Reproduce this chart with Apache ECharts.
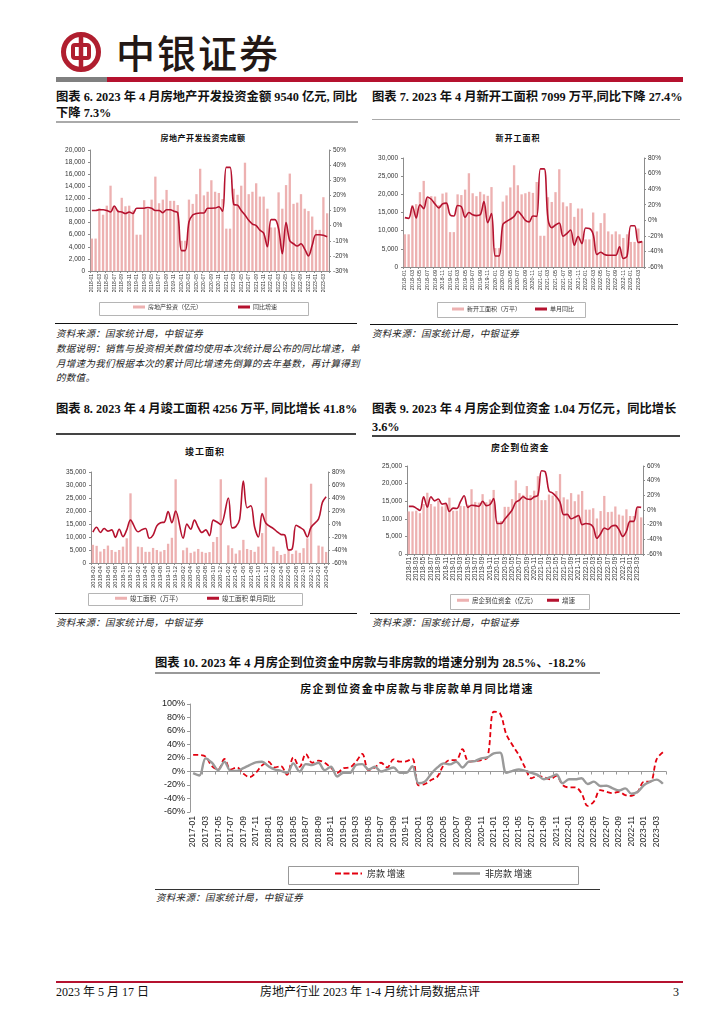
<!DOCTYPE html>
<html><head><meta charset="utf-8">
<script src="https://cdn.jsdelivr.net/npm/echarts@6/dist/echarts.min.js"></script>
<style>
html,body{margin:0;padding:0;background:#fff;}
#page{position:relative;width:724px;height:1024px;overflow:hidden;background:#fff;}
.t{position:absolute;white-space:nowrap;color:#111;}
.ttl{font-family:"Liberation Serif","Noto Sans CJK SC",serif;font-weight:bold;font-size:12.3px;line-height:16px;}
.src{font-family:"Noto Sans CJK SC",sans-serif;font-style:italic;font-size:9.5px;letter-spacing:0.3px;line-height:12px;color:#222;}
.ct{font-family:"Noto Sans CJK SC",sans-serif;font-weight:700;transform:translateX(-50%);color:#111;}
.ln{position:absolute;}
.ch{position:absolute;}
.foot{font-family:"Liberation Serif","Noto Sans CJK SC",serif;font-size:12px;line-height:14px;color:#111;}
</style></head>
<body><div id="page">
<svg style="position:absolute;left:0;top:0" width="724" height="100">
  <circle cx="81" cy="52" r="17.5" fill="none" stroke="#B01E2F" stroke-width="5"/>
  <rect x="73" y="45" width="16" height="13" rx="2" fill="none" stroke="#B01E2F" stroke-width="4"/>
  <line x1="81" y1="34" x2="81" y2="70" stroke="#B01E2F" stroke-width="4.5"/>
</svg>
<div class="t" style="left:116px;top:27px;font-family:'Noto Sans CJK SC';font-size:39px;line-height:48px;font-weight:500;color:#231815;letter-spacing:2px;">中银证券</div>
<div class="ln" style="left:56px;top:77px;width:51px;height:5px;background:#808080"></div>
<div class="ln" style="left:107px;top:77px;width:576px;height:5px;background:#B5122F"></div>

<div class="t ttl" style="left:56px;top:89px;">图表 6. 2023 年 4 月房地产开发投资金额 9540 亿元, 同比<br>下降 7.3%</div>
<div class="ln" style="left:56px;top:121px;width:302px;height:2px;background:#aaa"></div>
<div class="t ttl" style="left:372px;top:89px;">图表 7. 2023 年 4 月新开工面积 7099 万平,同比下降 27.4%</div>
<div class="ln" style="left:372px;top:119px;width:308px;height:1px;background:#aaa"></div>

<div class="t ct" style="left:203px;top:132px;font-size:8px;letter-spacing:0.5px;line-height:12px;">房地产开发投资完成额</div>
<div class="t ct" style="left:518px;top:132px;font-size:8px;letter-spacing:1px;line-height:12px;">新开工面积</div>

<div id="c6" class="ch" style="left:50px;top:128px;width:310px;height:195px;"></div>
<div id="c7" class="ch" style="left:365px;top:128px;width:320px;height:195px;"></div>

<div class="ln" style="left:55px;top:323px;width:302px;height:1px;background:#111"></div>
<div class="ln" style="left:370px;top:324px;width:308px;height:1px;background:#111"></div>
<div class="t src" style="left:56px;top:327px;">资料来源：国家统计局，中银证券</div>
<div class="t src" style="left:372px;top:327px;">资料来源：国家统计局，中银证券</div>
<div class="t src" style="left:56px;top:341px;line-height:14.5px;">数据说明：销售与投资相关数值均使用本次统计局公布的同比增速，单<br>月增速为我们根据本次的累计同比增速先倒算的去年基数，再计算得到<br>的数值。</div>

<div class="t ttl" style="left:56px;top:400px;line-height:18px;">图表 8. 2023 年 4 月竣工面积 4256 万平, 同比增长 41.8%</div>
<div class="t ttl" style="left:372px;top:400px;line-height:18px;">图表 9. 2023 年 4 月房企到位资金 1.04 万亿元，同比增长<br>3.6%</div>
<div class="ln" style="left:56px;top:433px;width:300px;height:1.5px;background:#444"></div>
<div class="ln" style="left:372px;top:435px;width:308px;height:1.5px;background:#444"></div>

<div class="t ct" style="left:205px;top:446px;font-size:9px;letter-spacing:1px;line-height:12px;">竣工面积</div>
<div class="t ct" style="left:520px;top:442px;font-size:9px;letter-spacing:0.7px;line-height:12px;">房企到位资金</div>

<div id="c8" class="ch" style="left:50px;top:438px;width:310px;height:172px;"></div>
<div id="c9" class="ch" style="left:365px;top:438px;width:320px;height:172px;"></div>

<div class="ln" style="left:55px;top:613px;width:302px;height:1px;background:#111"></div>
<div class="ln" style="left:370px;top:613px;width:310px;height:1px;background:#111"></div>
<div class="t src" style="left:56px;top:616px;">资料来源：国家统计局，中银证券</div>
<div class="t src" style="left:372px;top:616px;">资料来源：国家统计局，中银证券</div>

<div class="t ttl" style="left:155px;top:655px;">图表 10. 2023 年 4 月房企到位资金中房款与非房款的增速分别为 28.5%、-18.2%</div>
<div class="ln" style="left:155px;top:672px;width:445px;height:1.5px;background:#999"></div>
<div class="t ct" style="left:417px;top:681px;font-size:11px;letter-spacing:1.3px;line-height:14px;">房企到位资金中房款与非房款单月同比增速</div>
<div id="c10" class="ch" style="left:150px;top:678px;width:530px;height:210px;"></div>
<div class="ln" style="left:155px;top:889px;width:445px;height:1px;background:#333"></div>
<div class="t src" style="left:156px;top:891px;">资料来源：国家统计局，中银证券</div>

<div class="ln" style="left:56px;top:981px;width:627px;height:2px;background:#B5122F"></div>
<div class="t foot" style="left:56px;top:985px;">2023 年 5 月 17 日</div>
<div class="t foot" style="left:260px;top:985px;">房地产行业 2023 年 1-4 月统计局数据点评</div>
<div class="t foot" style="left:673px;top:985px;">3</div>
</div>
<script>
function monthLabels(y0, m0, y1, m1) {
  const out = []; let y = y0, m = m0;
  while (y < y1 || (y === y1 && m <= m1)) { out.push(y + '-' + String(m).padStart(2, '0')); m++; if (m > 12) { m = 1; y++; } }
  return out;
}
// ---- Chart 6: 房地产开发投资完成额 (2018-01 .. 2023-04)
const cats6 = monthLabels(2018, 1, 2023, 4);
const invest6 = [5360,5360,10400,9300,10800,14100,10700,10100,12100,10700,10800,10000,
  6000,6000,11700,10300,11800,15600,11200,11800,13400,11600,11600,10900,
  5000,5000,11800,11100,12700,16900,12500,13100,15000,13100,12900,11900,
  7000,7000,13600,12600,14100,17900,12700,13100,14500,12300,12300,10300,
  7200,7200,13000,10300,14200,16100,11100,11300,12700,10300,9900,9000,
  6800,6800,12200,9540];
const yoy6 = [10,10,10.5,10.5,10,9,13,9.5,9,8,9,8,
  11.5,11.5,11.5,12,11.5,10,10,8.5,10.5,10.5,9.5,8.5,
  -16.5,-16.5,2.4,7,8,8.3,8.3,11.5,11.5,11.6,12.5,9.5,
  38.5,38.5,14,13.5,10,7,3.5,1,0,-3,-5,-14,
  4,4,-2,-18.5,2,-10,-12,-13.5,-12,-15.5,-20,-13,
  -6,-6,-6.3,-7.3];
// ---- Chart 7: 新开工面积 (2018-01 .. 2023-04)
const cats7 = monthLabels(2018, 1, 2023, 4);
const start7 = [9000,9000,17000,17300,20600,23700,19000,19500,19400,17000,20200,20500,
  9600,9600,20000,19800,21300,25800,20300,19500,20700,20000,19600,22000,
  5200,5200,18000,19700,21900,28000,22500,20000,20300,20700,20400,23400,
  8600,8600,19200,17900,20600,26900,17800,16700,17600,13800,16100,16100,
  7600,7600,15000,9800,12100,14800,9800,9000,9800,9000,8000,9000,
  6900,6900,10600,7099];
const yoy7 = [3.4,2.5,18,3,20,15,30,27,21,16,21,22,
  7,5.5,19,17.5,4,10,7,6,7,24,-3,8.5,
  -45.9,-45.9,-5.5,-1.5,1.5,5,11.5,6.5,0,-2,5.5,5,
  66,66,2,-9.5,-6,-3.5,-20.5,-17,-12.5,-32,-21,-30,
  -10,-10.5,-18,-44,-41,-44,-45,-45,-45,-34,-49,-46,
  -7,-7,-28.5,-27.4];
// ---- Chart 8: 竣工面积 (2018-02 .. 2023-04)
const cats8 = monthLabels(2018, 2, 2023, 4);
const done8 = [7000,6600,4400,5400,6700,5000,4300,5000,6300,9500,26800,
  null,6300,6100,4300,4300,5800,5000,4400,5000,7400,9700,32200,
  null,4900,5900,3900,4400,5400,4300,3900,4200,8100,10000,32200,
  null,6800,5700,3600,4900,8900,5400,5000,4300,6300,11500,32900,
  null,6300,4600,3100,3500,5000,3500,4800,3900,5700,9500,30500,
  null,6700,6300,4256];
const yoy8 = [-12.5,-5,-13,-7,-11,-9,-20.5,-8,-19.5,-9,6,
  null,-12,-9,-7,-22,-17,-3,2,3,19,2,20,
  null,-22,0,-8,6,-5,-13,-9,-18,6,3,-1,
  null,40,-6,-4,7,66,25,28,-5,-20,16,1,
  null,-7,-12,-16,-17,-40,-38,-2,-5,-9,-20,-5,
  null,8,33,41.8];
// ---- Chart 9: 房企到位资金 (2018-01 .. 2023-04)
const cats9 = monthLabels(2018, 1, 2023, 4);
const funds9 = [12100,12100,12300,11600,14200,17400,14200,13500,15100,13500,14200,16000,
  12300,12300,13700,13600,14000,18400,14800,14600,17000,14700,15500,18200,
  9400,9400,13400,13400,15600,20900,17300,16800,19300,16700,18000,22100,
  15300,15300,16900,16600,17900,22700,16100,15500,17300,15000,16900,17900,
  12600,12600,13000,10100,12200,16500,11900,12000,13500,11200,10900,12700,
  10800,10800,13300,10400];
const yoy9 = [5,5,2.5,-0.5,18,4,18,12.5,15,8,9,-2,
  2.5,2,11.5,19.5,3.5,6.5,6,5,12,6,7.5,15.5,
  -18.5,-18.5,-12.5,-6.5,0,10.5,13.5,18,15,14.5,18,20,
  53.5,52,26,23,18,10.5,-6.5,-6,-12,-10,-7.5,-20,
  -18.5,-19,-23.5,-38.5,-32.5,-24.5,-26.5,-22,-21,-27,-36,-29,
  -15.5,-15.5,4,3.6];
// ---- Chart 10: 房款 / 非房款 单月同比 (2017-01 .. 2023-04)
const cats10 = monthLabels(2017, 1, 2023, 4);
const house10 = [24.5,24.5,22,8,3,18.5,3,6,-3,-8.5,-2,9,
  14.5,6,8,-5,21,7,26,13,16,13,5.5,-2,
  5,6,14.5,26,2,6,13,6,18,14.5,15,19,
  -20.5,-18.5,-12.5,-7.5,9.5,17,17,33,14.5,15.5,17,21,
  88.5,86,55,39,24.5,6,-10,-6.5,-8.5,-11.5,-6.5,-20,
  -23.5,-23.5,-32,-51,-44.5,-27.5,-30,-32,-30,-35,-36,-30,
  -15,-15,18,28.5];
const nonHouse10 = [-2.5,-6,19.5,13,2,14.5,1,1,5,9.5,13.5,14.5,
  8,3,1,-2,12,0,11,9.5,13,2,7,-7.5,
  -2,-2,9.5,11,3,7,0,3,6,-2,-2,8,
  -17.5,-15,-3.5,6,12,10.5,14.5,6,14.5,15.5,19.5,21,
  27,28,-2,1,3,1,-2,-5,-11.5,-8.5,-4.5,-17.5,
  -11.5,-11.5,-10,-18.5,-15,-21.5,-21,-25,-28,-25,-33,-30,
  -20,-15,-12,-18.2];

const BAR = '#EDB1B1', RED = '#B5122F', AX = '#8c8c8c';
const fmtThousands = v => v.toLocaleString('en-US');

function makeBarLine(id, cats, bars, line, o) {
  const chart = echarts.init(document.getElementById(id));
  chart.setOption({
    animation: false,
    textStyle: { fontFamily: 'Liberation Sans, Noto Sans CJK SC' },
    grid: o.grid,
    legend: [
      { left: o.leg[0], top: o.legTop, padding: 0, itemWidth: 12, itemHeight: 3, itemGap: 3,
        textStyle: { fontSize: o.legFont, color: '#333', fontFamily: 'Noto Sans CJK SC', padding: [0,0,0,-2] },
        data: [{ name: o.barName, icon: 'rect' }] },
      { left: o.leg[1], top: o.legTop, padding: 0, itemWidth: 12, itemHeight: 3, itemGap: 3,
        textStyle: { fontSize: o.legFont, color: '#333', fontFamily: 'Noto Sans CJK SC', padding: [0,0,0,-2] },
        data: [{ name: o.lineName, icon: 'rect' }] }
    ],
    graphic: [{ type: 'rect', silent: true, shape: { x: o.box[0], y: o.box[1], width: o.box[2], height: o.box[3] },
      style: { fill: 'none', stroke: '#b5b5b5', lineWidth: 1 } }],
    xAxis: { type: 'category', data: cats,
      axisLine: { lineStyle: { color: AX } },
      axisTick: { show: true, interval: 1, length: 2, lineStyle: { color: AX } },
      axisLabel: { interval: 1, rotate: 90, fontSize: o.xFont, color: '#333', margin: 3 } },
    yAxis: [
      { type: 'value', min: 0, max: o.lMax, interval: o.lInt, splitLine: { show: false },
        axisLine: { show: true, lineStyle: { color: AX } }, axisTick: { show: true, length: 2, lineStyle: { color: AX } },
        axisLabel: { fontSize: o.yFont, color: '#333', margin: 5, formatter: fmtThousands } },
      { type: 'value', min: o.rMin, max: o.rMax, interval: o.rInt, splitLine: { show: false },
        axisLine: { show: true, lineStyle: { color: AX } }, axisTick: { show: true, length: 2, lineStyle: { color: AX } },
        axisLabel: { fontSize: o.yFont, color: '#333', margin: 4, formatter: '{value}%' } }
    ],
    series: [
      { type: 'bar', name: o.barName, data: bars, barWidth: '62%', itemStyle: { color: BAR } },
      { type: 'line', name: o.lineName, yAxisIndex: 1, data: line, smooth: 0.35, symbol: 'none', connectNulls: true,
        lineStyle: { color: RED, width: 1.6 }, itemStyle: { color: RED } }
    ]
  });
}

makeBarLine('c6', cats6, invest6, yoy6, {
  grid: { left: 40, right: 31, top: 22, bottom: 52 }, lMax: 20000, lInt: 2000, rMin: -30, rMax: 50, rInt: 10,
  barName: '房地产投资（亿元）', lineName: '同比增速', leg: [83, 188], legTop: 176, legFont: 6,
  box: [49.5, 174.5, 209, 13], xFont: 5, yFont: 6.5 });
makeBarLine('c7', cats7, start7, yoy7, {
  grid: { left: 38, right: 41, top: 30, bottom: 56 }, lMax: 30000, lInt: 5000, rMin: -60, rMax: 80, rInt: 20,
  barName: '新开工面积（万平）', lineName: '单月同比', leg: [87, 170], legTop: 178, legFont: 6,
  box: [72.5, 174.5, 148, 15], xFont: 5.5, yFont: 6.5 });
makeBarLine('c8', cats8, done8, yoy8, {
  grid: { left: 41, right: 32, top: 34, bottom: 47 }, lMax: 35000, lInt: 5000, rMin: -60, rMax: 80, rInt: 20,
  barName: '竣工面积（万平）', lineName: '竣工面积 单月同比', leg: [65, 157], legTop: 157, legFont: 6.5,
  box: [38.5, 155.5, 214, 12], xFont: 6, yFont: 6.5 });
makeBarLine('c9', cats9, funds9, yoy9, {
  grid: { left: 42, right: 42, top: 28, bottom: 56 }, lMax: 25000, lInt: 5000, rMin: -60, rMax: 60, rInt: 20,
  barName: '房企到位资金（亿元）', lineName: '增速', leg: [92, 182], legTop: 159, legFont: 6.5,
  box: [85.5, 156.5, 139, 15], xFont: 6.5, yFont: 6.5 });

(function () {
  const chart = echarts.init(document.getElementById('c10'));
  const dashIcon = 'path://M0,0h6v2h-6z M8.5,0h6v2h-6z M17,0h6v2h-6z M25.5,0h1.5v2h-1.5z';
  chart.setOption({
    animation: false,
    textStyle: { fontFamily: 'Liberation Sans, Noto Sans CJK SC' },
    grid: { left: 40, right: 14, top: 26, bottom: 76 },
    legend: [
      { left: 185, top: 191, padding: 0, itemWidth: 27, itemHeight: 2, itemGap: 4,
        textStyle: { fontSize: 9, color: '#222', fontFamily: 'Noto Sans CJK SC' },
        data: [{ name: '房款 增速', icon: dashIcon, itemStyle: { color: '#E3000F' } }] },
      { left: 303, top: 191, padding: 0, itemWidth: 27, itemHeight: 2.5, itemGap: 4,
        textStyle: { fontSize: 9, color: '#222', fontFamily: 'Noto Sans CJK SC' },
        data: [{ name: '非房款 增速', icon: 'rect', itemStyle: { color: '#9a9a9a' } }] }
    ],
    graphic: [{ type: 'rect', silent: true, shape: { x: 138.5, y: 188.5, width: 290, height: 18 },
      style: { fill: 'none', stroke: '#999', lineWidth: 1 } }],
    xAxis: [
      { type: 'category', data: cats10, axisLine: { onZero: true, lineStyle: { color: '#999' } },
        axisTick: { show: true, interval: 1, length: 3, lineStyle: { color: '#999' } }, axisLabel: { show: false } },
      { type: 'category', data: cats10, position: 'bottom', axisLine: { show: false, onZero: false }, axisTick: { show: false },
        axisLabel: { interval: 1, rotate: 90, fontSize: 8.5, color: '#222', margin: 4 } }
    ],
    yAxis: { type: 'value', min: -60, max: 100, interval: 20, splitLine: { show: false },
      axisLine: { show: true, lineStyle: { color: '#999' } }, axisTick: { show: true, length: 3, lineStyle: { color: '#999' } },
      axisLabel: { fontSize: 9, color: '#222', margin: 5, formatter: '{value}%' } },
    series: [
      { type: 'line', name: '房款 增速', data: house10, smooth: 0.35, symbol: 'none',
        lineStyle: { color: '#E3000F', width: 1.8, type: [5, 3] }, itemStyle: { color: '#E3000F' } },
      { type: 'line', name: '非房款 增速', data: nonHouse10, smooth: 0.35, symbol: 'none',
        lineStyle: { color: '#9a9a9a', width: 2.4 }, itemStyle: { color: '#9a9a9a' } }
    ]
  });
})();
</script>
</body></html>
